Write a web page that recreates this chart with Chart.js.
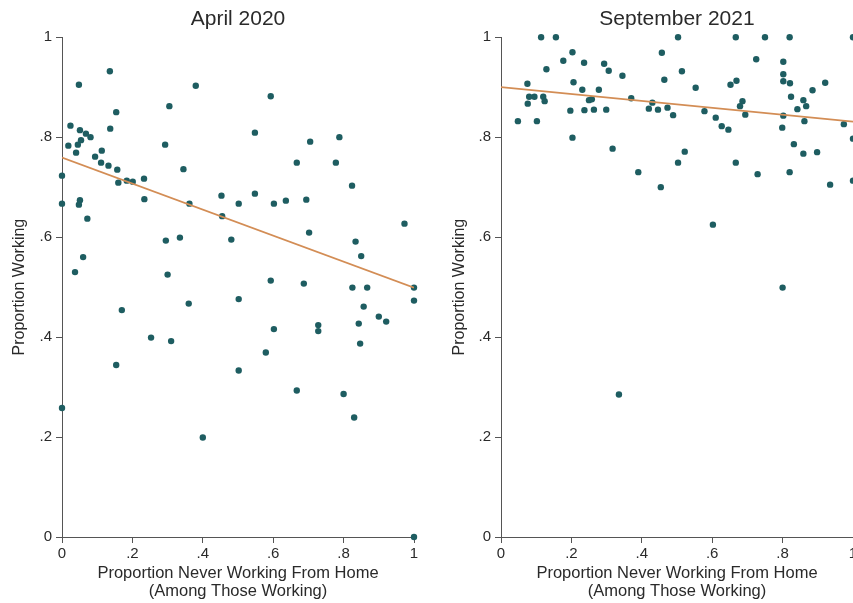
<!DOCTYPE html>
<html lang="en">
    <head>
        <meta charset="UTF-8" />
        <title>Proportion Working vs Never Working From Home</title>
        <script src="https://cdn.jsdelivr.net/npm/chart.js@4.4.0/dist/chart.umd.min.js"></script>
        <style>
            html, body { margin: 0; padding: 0; background: #fff; width: 853px; height: 603px; overflow: hidden; }
            canvas { position: absolute; top: 0; }
        </style>
    </head>
    <body>
        <canvas id="aprilChart" width="430" height="603" style="left:0px"></canvas>
        <canvas id="septChart" width="430" height="603" style="left:440px"></canvas>
        <script>
            // panel titles and axis labels
            const panelTitles = ['April 2020', 'September 2021'];
            const xTitle = ['Proportion Never Working From Home', '(Among Those Working)'];
            const yTitle = 'Proportion Working';
            const tickLabels = ['0', '.2', '.4', '.6', '.8', '1'];

            // April 2020 scatter
            const aprilX = [0.136, 0.048, 0.38, 0.305, 0.154, 0.024, 0.137, 0.051, 0.068, 0.081, 0.054, 0.045, 0.018, 0.293, 0.04,
                0.113, 0.094, 0.111, 0.132, 0.157, 0.345, 0, 0.16, 0.184, 0.201, 0.233, 0.234, 0.362, 0, 0.051,
                0.048, 0.072, 0.295, 0.335, 0.06, 0.037, 0.30, 0.36, 0.17, 0.253, 0.31, 0.154, 0, 0.40, 0.83,
                1, 0.593, 0.548, 0.705, 0.788, 0.667, 0.778, 0.824, 0.453, 0.502, 0.548, 0.602, 0.636, 0.694, 0.455,
                0.973, 0.481, 0.702, 0.834, 0.85, 0.593, 0.687, 0.825, 0.867, 1, 1, 0.502, 0.857, 0.90, 0.921,
                0.843, 0.728, 0.728, 0.602, 0.847, 0.579, 0.502, 0.667, 0.80];
            const aprilY = [0.932, 0.905, 0.903, 0.862, 0.85, 0.823, 0.817, 0.814, 0.807, 0.80, 0.794, 0.785, 0.783, 0.785, 0.769,
                0.773, 0.761, 0.749, 0.743, 0.735, 0.736, 0.723, 0.709, 0.713, 0.711, 0.717, 0.676, 0.667, 0.667, 0.674,
                0.665, 0.637, 0.593, 0.599, 0.56, 0.53, 0.525, 0.467, 0.454, 0.399, 0.392, 0.344, 0.258, 0.199, 0.239,
                0, 0.882, 0.809, 0.791, 0.80, 0.749, 0.749, 0.703, 0.683, 0.667, 0.687, 0.667, 0.673, 0.675, 0.642,
                0.627, 0.595, 0.609, 0.591, 0.562, 0.513, 0.507, 0.499, 0.499, 0.499, 0.473, 0.476, 0.461, 0.441, 0.431,
                0.427, 0.424, 0.412, 0.416, 0.387, 0.369, 0.333, 0.293, 0.286];
            const aprilFit = [0.759, 0.499];

            // September 2021 scatter
            const septX = [0.114, 0.156, 0.203, 0.177, 0.236, 0.293, 0.129, 0.306, 0.345, 0.075, 0.206, 0.231, 0.278, 0.080, 0.095,
                0.12, 0.124, 0.076, 0.250, 0.258, 0.37, 0.197, 0.237, 0.264, 0.299, 0.42, 0.048, 0.102, 0.203, 0.317,
                0.39, 0.503, 0.667, 0.75, 0.82, 1.0, 0.457, 0.725, 0.802, 0.514, 0.802, 0.464, 0.669, 0.652, 0.802,
                0.821, 0.921, 0.553, 0.885, 0.824, 0.859, 0.686, 0.679, 0.43, 0.446, 0.473, 0.489, 0.842, 0.867, 0.578,
                0.694, 0.61, 0.802, 0.627, 0.646, 0.862, 0.974, 0.799, 1.0, 0.832, 0.522, 0.859, 0.898, 0.503, 0.667,
                0.729, 0.82, 0.454, 0.935, 1.0, 0.335, 0.602, 0.80];
            const septY = [1.0, 1.0, 0.97, 0.953, 0.949, 0.947, 0.936, 0.933, 0.923, 0.907, 0.91, 0.895, 0.895, 0.881, 0.881,
                0.881, 0.872, 0.867, 0.874, 0.876, 0.878, 0.853, 0.854, 0.855, 0.855, 0.857, 0.832, 0.832, 0.799, 0.777,
                0.73, 1.0, 1.0, 1.0, 1.0, 1.0, 0.969, 0.956, 0.951, 0.932, 0.926, 0.915, 0.913, 0.905, 0.912,
                0.908, 0.909, 0.899, 0.894, 0.881, 0.874, 0.872, 0.862, 0.869, 0.855, 0.859, 0.844, 0.856, 0.862, 0.852,
                0.845, 0.839, 0.843, 0.822, 0.815, 0.832, 0.826, 0.819, 0.797, 0.786, 0.771, 0.767, 0.77, 0.749, 0.749,
                0.726, 0.73, 0.70, 0.705, 0.713, 0.285, 0.625, 0.499];
            const septFit = [0.90, 0.831];

            const dotColor = '#1e5d61';
            const fitColor = '#d38d55';
            const axisColor = '#555';
            const textColor = '#2a2a2a';

            function toPoints(xs, ys) {
                return xs.map((x, i) => ({x: x, y: ys[i]}));
            }

            function makePanel(canvasId, title, xs, ys, fit, yWidth, padRight) {
                const ctx = document.getElementById(canvasId).getContext('2d');
                return new Chart(ctx, {
                    type: 'scatter',
                    data: {
                        datasets: [
                        {
                            type: 'line',
                            data: [{x: 0, y: fit[0]}, {x: 1, y: fit[1]}],
                            borderColor: fitColor,
                            borderWidth: 1.8,
                            pointRadius: 0,
                            fill: false
                        },
                        {
                            data: toPoints(xs, ys),
                            pointStyle: 'circle',
                            pointRadius: 3.2,
                            backgroundColor: dotColor,
                            borderColor: dotColor,
                            borderWidth: 0,
                            clip: false
                        }
                        ]
                    },
                    options: {
                        responsive: false,
                        animation: false,
                        events: [],
                        layout: { padding: { left: 0, right: padRight, top: 0, bottom: 0 } },
                        plugins: {
                            legend: { display: false },
                            tooltip: { enabled: false },
                            title: {
                                display: true,
                                text: title,
                                fullSize: false,
                                color: textColor,
                                font: { family: 'Liberation Sans, Arial, sans-serif', size: 21, weight: 'normal', lineHeight: 1.2 },
                                padding: { top: 7, bottom: 5 }
                            }
                        },
                        scales: {
                            x: {
                                type: 'linear',
                                min: 0,
                                max: 1,
                                afterFit: s => { s.height = 66; },
                                border: { display: true, color: axisColor, width: 1 },
                                grid: { drawOnChartArea: false, drawTicks: true, tickLength: 6, color: axisColor },
                                ticks: {
                                    stepSize: 0.2,
                                    autoSkip: false,
                                    maxRotation: 0,
                                    padding: 2,
                                    color: textColor,
                                    font: { family: 'Liberation Sans, Arial, sans-serif', size: 15 },
                                    callback: v => tickLabels[Math.round(v * 5)]
                                },
                                title: {
                                    display: true,
                                    text: xTitle,
                                    color: textColor,
                                    font: { family: 'Liberation Sans, Arial, sans-serif', size: 16.5, lineHeight: 1.1 },
                                    padding: { top: 0, bottom: 2 }
                                }
                            },
                            y: {
                                type: 'linear',
                                min: 0,
                                max: 1,
                                afterFit: s => { s.width = yWidth; },
                                border: { display: true, color: axisColor, width: 1 },
                                grid: { drawOnChartArea: false, drawTicks: true, tickLength: 6, color: axisColor },
                                ticks: {
                                    stepSize: 0.2,
                                    autoSkip: false,
                                    padding: 4,
                                    color: textColor,
                                    font: { family: 'Liberation Sans, Arial, sans-serif', size: 15 },
                                    callback: v => tickLabels[Math.round(v * 5)]
                                },
                                title: {
                                    display: true,
                                    text: yTitle,
                                    color: textColor,
                                    font: { family: 'Liberation Sans, Arial, sans-serif', size: 16, lineHeight: 1.2 },
                                    padding: { top: 10, bottom: 0 }
                                }
                            }
                        }
                    }
                });
            }

            makePanel('aprilChart', panelTitles[0], aprilX, aprilY, aprilFit, 62, 16);
            makePanel('septChart', panelTitles[1], septX, septY, septFit, 61, 17);
        </script>
    </body>
</html>
